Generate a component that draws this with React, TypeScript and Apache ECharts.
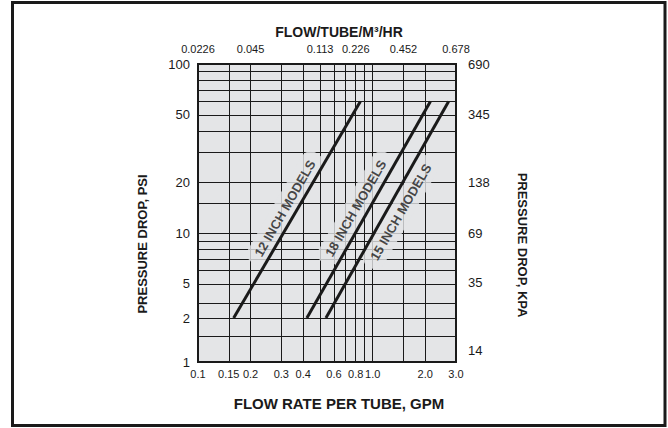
import React, { useEffect, useRef } from "react";
import * as echarts from "echarts";

// ---- data ----
const xLabelGpm = [0.1, 0.15, 0.2, 0.3, 0.4, 0.6, 0.8, 1.0, 2.0, 3.0];
const xLabelText = ["0.1", "0.15", "0.2", "0.3", "0.4", "0.6", "0.8", "1.0", "2.0", "3.0"];
const xGridGpm = [0.1, 0.15, 0.2, 0.3, 0.4, 0.5, 0.6, 0.7, 0.8, 0.9, 1.0, 1.5, 2.0, 3.0];
const topTickGpm = [0.1, 0.2, 0.5, 0.8, 1.5, 3.0];
const topTickText = ["0.0226", "0.045", "0.113", "0.226", "0.452", "0.678"];
const yLabelPsi = [1, 2, 5, 10, 20, 50, 100];
const yGridPsi = [1, 1.5, 2, 3, 5, 6, 7, 8, 9, 10, 15, 20, 30, 40, 50, 60, 70, 80, 90, 100];
const kpaLabels = [690, 345, 138, 69, 35, 14];

const models = ["12 INCH MODELS", "18 INCH MODELS", "15 INCH MODELS"];
const startGpm = [0.16, 0.42, 0.54];
const endGpm = [0.85, 2.14, 2.72];
const startPsi = [2, 2, 2];
const endPsi = [60, 60, 60];
const labelGpm = [0.315, 0.8, 1.45];
const labelPsi = [14, 14, 13.3];

// ---- printed PSI scale (log above 5 psi, compressed below) ----
const P1 = 0.237; // position of 1 psi
const P2 = 0.497; // position of 2 psi
const L = Math.log10;
function psiPos(p: number): number {
  if (p >= 5) return L(p);
  if (p >= 2) return P2 + ((L(p) - L(2)) / (L(5) - L(2))) * (L(5) - P2);
  return P1 + (L(p) / L(2)) * (P2 - P1);
}
function lookup(vals: number[], texts: string[], v: number): string {
  for (let i = 0; i < vals.length; i++) if (Math.abs(vals[i] - v) < 1e-6) return texts[i];
  return "";
}

const FONT = "'Liberation Sans', Arial, Helvetica, sans-serif";
const INK = "#1a1a1a";
const PLOT_BG = "#e4e5e7";

export default function App() {
  const ref = useRef<HTMLDivElement>(null);
  useEffect(() => {
    if (!ref.current) return;
    const chart = echarts.init(ref.current, undefined, { renderer: "svg" });
    const xMin = L(0.1);
    const xMax = L(3.0);
    const yMin = psiPos(1);
    const yMax = psiPos(100);
    const kMax = L(690);
    const kMin = kMax - (yMax - yMin);

    const xLabelVals = xLabelGpm.map(L);
    const topVals = topTickGpm.map(L);
    const yLabelVals = yLabelPsi.map(psiPos);
    const kVals = kpaLabels.map(L);

    const lineSeries = models.map((m, i) => ({
      type: "line",
      name: m,
      z: 5,
      symbol: "none",
      lineStyle: { color: INK, width: 3 },
      data: [
        [L(startGpm[i]), psiPos(startPsi[i])],
        [L(endGpm[i]), psiPos(endPsi[i])],
      ],
    }));
    const labelSeries = {
      type: "scatter",
      z: 1,
      symbolSize: 0,
      silent: true,
      data: models.map((m, i) => ({ name: m, value: [L(labelGpm[i]), psiPos(labelPsi[i])] })),
      label: {
        show: true,
        position: "inside",
        formatter: (p: any) => p.name,
        rotate: 60,
        fontFamily: FONT,
        fontWeight: "bold",
        fontSize: 13,
        color: INK,
        backgroundColor: PLOT_BG,
        padding: [5, 9],
        borderRadius: 10,
      },
    };

    chart.setOption({
      animation: false,
      grid: {
        left: 198,
        top: 64,
        width: 258,
        height: 298,
        show: true,
        backgroundColor: PLOT_BG,
        borderColor: INK,
        borderWidth: 2,
        z: 0,
      },
      xAxis: [
        {
          type: "value",
          position: "bottom",
          min: xMin,
          max: xMax,
          axisLine: { show: false },
          axisTick: { show: false, customValues: xGridGpm.map(L) },
          splitLine: { show: true, lineStyle: { color: INK, width: 1 } },
          axisLabel: {
            customValues: xLabelVals,
            formatter: (v: number) => lookup(xLabelVals, xLabelText, v),
            fontFamily: FONT,
            fontSize: 11,
            color: INK,
            margin: 6,
          },
        },
        {
          type: "value",
          position: "top",
          min: xMin,
          max: xMax,
          axisLine: { show: false },
          axisTick: { show: false },
          splitLine: { show: false },
          axisLabel: {
            customValues: topVals,
            formatter: (v: number) => lookup(topVals, topTickText, v),
            fontFamily: FONT,
            fontSize: 11,
            color: INK,
            margin: 10,
          },
        },
      ],
      yAxis: [
        {
          type: "value",
          position: "left",
          min: yMin,
          max: yMax,
          axisLine: { show: false },
          axisTick: { show: false, customValues: yGridPsi.map(psiPos) },
          splitLine: { show: true, lineStyle: { color: INK, width: 1 } },
          axisLabel: {
            customValues: yLabelVals,
            formatter: (v: number) => lookup(yLabelVals, yLabelPsi.map(String), v),
            fontFamily: FONT,
            fontSize: 13,
            color: INK,
            margin: 8,
          },
        },
        {
          type: "value",
          position: "right",
          min: kMin,
          max: kMax,
          axisLine: { show: false },
          axisTick: { show: false },
          splitLine: { show: false },
          axisLabel: {
            customValues: kVals,
            formatter: (v: number) => lookup(kVals, kpaLabels.map(String), v),
            fontFamily: FONT,
            fontSize: 13,
            color: INK,
            margin: 12,
          },
        },
      ],
      graphic: [
        {
          type: "rect",
          shape: { x: 12.5, y: 2.5, width: 652.5, height: 423 },
          style: { fill: "none", stroke: INK, lineWidth: 3 },
          silent: true,
        },
        {
          type: "text",
          x: 339,
          y: 32,
          style: {
            text: "FLOW/TUBE/M³/HR",
            font: `bold 14px ${FONT}`,
            fill: INK,
            textAlign: "center",
            textVerticalAlign: "middle",
          },
        },
        {
          type: "text",
          x: 339,
          y: 403,
          style: {
            text: "FLOW RATE PER TUBE, GPM",
            font: `bold 15px ${FONT}`,
            fill: INK,
            textAlign: "center",
            textVerticalAlign: "middle",
          },
        },
        {
          type: "text",
          x: 142,
          y: 244,
          rotation: Math.PI / 2,
          style: {
            text: "PRESSURE DROP, PSI",
            font: `bold 13px ${FONT}`,
            fill: INK,
            textAlign: "center",
            textVerticalAlign: "middle",
          },
        },
        {
          type: "text",
          x: 522,
          y: 245,
          rotation: -Math.PI / 2,
          style: {
            text: "PRESSURE DROP, KPA",
            font: `bold 13px ${FONT}`,
            fill: INK,
            textAlign: "center",
            textVerticalAlign: "middle",
          },
        },
      ],
      series: [...lineSeries, labelSeries],
    });
    return () => chart.dispose();
  }, []);
  return (
    <div
      ref={ref}
      style={{ position: "fixed", left: 0, top: 0, width: 668, height: 428, background: "#fff" }}
    />
  );
}
